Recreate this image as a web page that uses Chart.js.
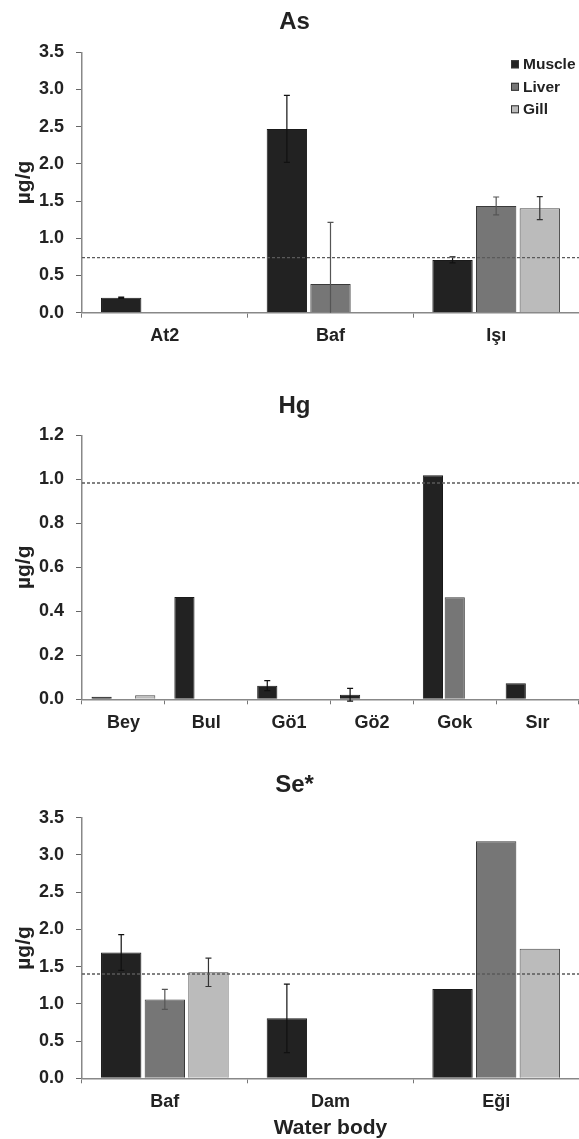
<!DOCTYPE html>
<html>
<head>
<meta charset="utf-8">
<script src="https://cdn.jsdelivr.net/npm/chart.js@4.4.1/dist/chart.umd.min.js"></script>
<style>
  html, body { margin: 0; padding: 0; background: #ffffff; }
  #wrap { position: relative; width: 579px; height: 1139px; overflow: hidden; }
  .box { position: absolute; left: 0; width: 579px; }
</style>
</head>
<body>
<div id="wrap">
  <div class="box" id="b1" style="top:0px;height:360px;"><canvas id="c1"></canvas></div>
  <div class="box" id="b2" style="top:370px;height:370px;"><canvas id="c2"></canvas></div>
  <div class="box" id="b3" style="top:750px;height:389px;"><canvas id="c3"></canvas></div>
</div>
<script>
// ---------- DATA ----------
const seriesNames = ['Muscle', 'Liver', 'Gill'];

const asCategories = ['At2', 'Baf', 'Işı'];
const asMuscle = [0.20, 2.47, 0.71];
const asLiver = [0, 0.385, 1.435];
const asGill = [0, 0, 1.405];
const asMuscleErr = [0.008, 0.45, 0.04];
const asLiverErr = [0, 0.83, 0.12];
const asGillErr = [0, 0, 0.155];
const asLimit = 0.74;
const asTicks = [0, 3.5, 0.5];

const hgCategories = ['Bey', 'Bul', 'Gö1', 'Gö2', 'Gok', 'Sır'];
const hgMuscle = [0.012, 0.465, 0.062, 0.021, 1.018, 0.073];
const hgLiver = [0, 0, 0, 0, 0.464, 0];
const hgGill = [0.018, 0, 0, 0, 0, 0];
const hgMuscleErr = [0, 0, 0.023, 0.029, 0, 0];
const hgLiverErr = [0, 0, 0, 0, 0, 0];
const hgGillErr = [0, 0, 0, 0, 0, 0];
const hgLimit = 0.983;
const hgTicks = [0, 1.2, 0.2];

const seCategories = ['Baf', 'Dam', 'Eği'];
const seMuscle = [1.69, 0.805, 1.20];
const seLiver = [1.06, 0, 3.185];
const seGill = [1.423, 0, 1.74];
const seMuscleErr = [0.24, 0.46, 0];
const seLiverErr = [0.135, 0, 0];
const seGillErr = [0.19, 0, 0];
const seLimit = 1.40;
const seTicks = [0, 3.5, 0.5];

// ---------- STYLE ----------
const FONT = "'Liberation Sans', Arial, Helvetica, sans-serif";
const fills = ['#222222', '#767676', '#bbbbbb'];
const borders = ['#1a1a1a', '#3a3a3a', '#4a4a4a'];
const errColors = ['#111111', '#555555', '#333333'];
Chart.defaults.font.family = FONT;
Chart.defaults.color = '#222';

const errorBarPlugin = {
  id: 'errorBars',
  afterDatasetsDraw(chart) {
    const ctx = chart.ctx;
    const y = chart.scales.y;
    const range = y.max - y.min;
    chart.data.datasets.forEach((ds, di) => {
      const meta = chart.getDatasetMeta(di);
      if (!ds.errors) return;
      meta.data.forEach((el, j) => {
        const v = ds.data[j];
        const e = ds.errors[j];
        if (!e) return;
        const x = el.x;
        const top = y.getPixelForValue(v + e);
        let lowVal = v - e;
        let lowCap = true;
        if (lowVal < y.min - 0.02 * range) { lowVal = y.min; lowCap = false; }
        const bot = y.getPixelForValue(lowVal);
        ctx.save();
        ctx.strokeStyle = ds.errorColor;
        ctx.lineWidth = 1.2;
        ctx.beginPath();
        ctx.moveTo(x, top); ctx.lineTo(x, bot);
        ctx.moveTo(x - 3, top); ctx.lineTo(x + 3, top);
        if (lowCap) { ctx.moveTo(x - 3, bot); ctx.lineTo(x + 3, bot); }
        ctx.stroke();
        ctx.restore();
      });
    });
  }
};

const limitLinePlugin = {
  id: 'limitLine',
  afterDatasetsDraw(chart, args, opts) {
    if (opts.value == null) return;
    const ctx = chart.ctx;
    const yp = chart.scales.y.getPixelForValue(opts.value);
    ctx.save();
    ctx.strokeStyle = '#5a5a5a';
    ctx.lineWidth = 1.4;
    ctx.setLineDash([3, 2]);
    ctx.beginPath();
    ctx.moveTo(chart.chartArea.left, yp);
    ctx.lineTo(chart.width, yp);
    ctx.stroke();
    ctx.restore();
  }
};

const innerLegendPlugin = {
  id: 'innerLegend',
  afterDraw(chart, args, opts) {
    if (!opts.show) return;
    const ctx = chart.ctx;
    const area = chart.chartArea;
    const x0 = area.right - 68;
    let y0 = area.top + 12;
    ctx.save();
    ctx.font = "bold 15.5px " + FONT;
    ctx.textBaseline = 'middle';
    ctx.textAlign = 'left';
    chart.data.datasets.forEach((ds) => {
      ctx.fillStyle = ds.backgroundColor;
      ctx.fillRect(x0, y0 - 4, 8, 8);
      ctx.strokeStyle = '#333';
      ctx.lineWidth = 1;
      ctx.strokeRect(x0 + 0.5, y0 - 3.5, 7, 7);
      ctx.fillStyle = '#222';
      ctx.fillText(ds.label, x0 + 12, y0 + 0.5);
      y0 += 22.5;
    });
    ctx.restore();
  }
};

function makeChart(id, cfg) {
  const datasets = cfg.values.map((vals, i) => ({
    label: seriesNames[i],
    data: vals,
    errors: cfg.errors[i],
    errorColor: errColors[i],
    backgroundColor: fills[i],
    borderColor: borders[i],
    borderWidth: 1,
    categoryPercentage: 0.79,
    barPercentage: 0.925
  }));
  return new Chart(document.getElementById(id), {
    type: 'bar',
    data: { labels: cfg.labels, datasets },
    plugins: [errorBarPlugin, limitLinePlugin, innerLegendPlugin],
    options: {
      responsive: true,
      maintainAspectRatio: false,
      animation: false,
      events: [],
      layout: { padding: { left: 10, right: 0, top: 0, bottom: 0 } },
      plugins: {
        legend: { display: false },
        tooltip: { enabled: false },
        title: {
          display: true,
          text: cfg.title,
          color: '#222',
          font: { size: 24, weight: 'bold', family: FONT },
          padding: { top: cfg.titleTop, bottom: cfg.titleBottom }
        },
        limitLine: { value: cfg.limit },
        innerLegend: { show: !!cfg.legend }
      },
      scales: {
        x: {
          ticks: { font: { size: 18, weight: 'bold', family: FONT }, color: '#222', padding: 7.5, maxRotation: 0, autoSkip: false },
          grid: { drawOnChartArea: false, drawTicks: true, tickLength: 5, tickColor: '#777', offset: true },
          border: { color: '#888', width: 1.5 },
          title: cfg.xTitle ? { display: true, text: cfg.xTitle, color: '#222', font: { size: 21, weight: 'bold', family: FONT, lineHeight: 1.0 }, padding: { top: 4, bottom: 0 } } : { display: false },
          afterFit: (s) => { s.height = cfg.xHeight; }
        },
        y: {
          min: cfg.ticks[0],
          max: cfg.ticks[1],
          ticks: { stepSize: cfg.ticks[2], callback: (v) => Number(v).toFixed(1), font: { size: 18, weight: 'bold', family: FONT }, color: '#222', padding: 12 },
          grid: { drawOnChartArea: false, drawTicks: true, tickLength: 6, tickColor: '#666' },
          border: { color: '#888', width: 1.5 },
          title: { display: true, text: 'µg/g', color: '#222', font: { size: 21, weight: 'bold', family: FONT }, padding: { top: 1.4, bottom: 0 } },
          afterFit: (s) => { s.width = 72; }
        }
      }
    }
  });
}

makeChart('c1', {
  title: 'As', labels: asCategories,
  values: [asMuscle, asLiver, asGill],
  errors: [asMuscleErr, asLiverErr, asGillErr],
  limit: asLimit, ticks: asTicks, legend: true,
  titleTop: 8.3, titleBottom: 15.2, xHeight: 47.3
});
makeChart('c2', {
  title: 'Hg', labels: hgCategories,
  values: [hgMuscle, hgLiver, hgGill],
  errors: [hgMuscleErr, hgLiverErr, hgGillErr],
  limit: hgLimit, ticks: hgTicks, legend: false,
  titleTop: 22.3, titleBottom: 14.2, xHeight: 40.7
});
makeChart('c3', {
  title: 'Se*', labels: seCategories,
  values: [seMuscle, seLiver, seGill],
  errors: [seMuscleErr, seLiverErr, seGillErr],
  limit: seLimit, ticks: seTicks, legend: false, xTitle: 'Water body',
  titleTop: 20.6, titleBottom: 18.3, xHeight: 60.7
});
</script>
</body>
</html>
